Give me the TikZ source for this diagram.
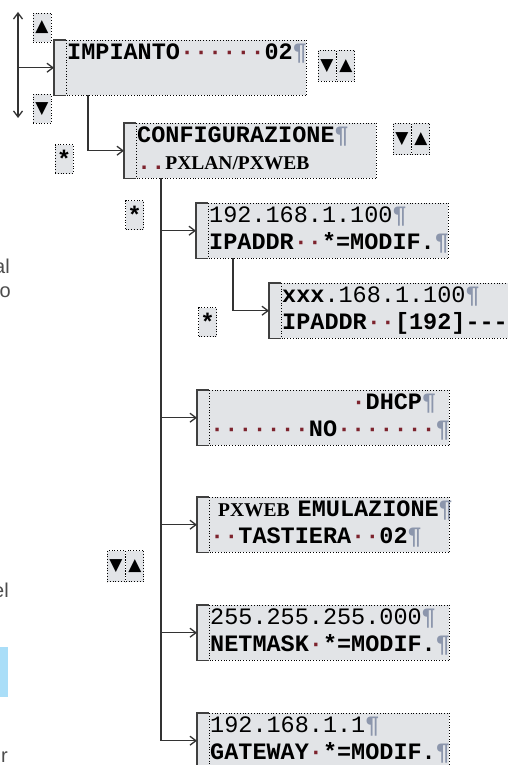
\documentclass[tikz,border=0pt]{standalone}
\usepackage{fontspec}
\usetikzlibrary{arrows.meta}
\newfontfamily\lcdmono{Liberation Mono}
\newfontfamily\lcdserif{Liberation Serif}
\newfontfamily\symfont{DejaVu Sans}
\newfontfamily\sidefont{Liberation Sans}
\definecolor{lcdfill}{RGB}{226,228,231}
\definecolor{lcdedge}{gray}{0.25}
\definecolor{lcddotcol}{RGB}{125,35,45}
\definecolor{lcdpilcol}{RGB}{140,150,172}
\definecolor{wirecol}{gray}{0.2}
\definecolor{sidetext}{gray}{0.3}
\definecolor{sidebar}{RGB}{170,222,248}
\newcommand{\lcddt}{\textcolor{lcddotcol}{·}}
\newcommand{\lcdpil}{\textcolor{lcdpilcol}{¶}}
\tikzset{
  lcd/.style={rectangle,fill=lcdfill,anchor=north west,minimum width=252pt,minimum height=55pt,
    inner xsep=13pt,inner ysep=0pt,text width=226pt,align=left,
    font=\lcdmono\bfseries\fontsize{23.5}{27.5}\selectfont,
    execute at begin node={\hyphenpenalty=10000 \exhyphenpenalty=10000 \strut},
    execute at end node={\strut}},
  lcddot/.style={draw=black,dotted,line width=0.8pt},
  lcdrim/.style={draw=lcdedge,line width=1.2pt},
  keyb/.style={rectangle,fill=lcdfill,draw=black,dotted,line width=0.8pt,inner sep=0pt,
    minimum width=18pt,minimum height=29pt,font=\symfont\fontsize{17}{17}\selectfont},
  keyw/.style={keyb,minimum width=18pt,minimum height=31pt},
  keystar/.style={keyb,font=\lcdmono\bfseries\fontsize{24}{24}\selectfont},
  wire/.style={draw=wirecol,line width=1.3pt},
  wirea/.style={wire,-{Straight Barb[length=6pt,width=9pt]}},
  wireb/.style={wire,{Straight Barb[length=6pt,width=9pt]}-{Straight Barb[length=6pt,width=9pt]}},
  side/.style={font=\sidefont\fontsize{20}{24}\selectfont,text=sidetext,anchor=base east,inner sep=0pt},
}

\begin{document}
\begin{tikzpicture}[x=1pt,y=-1pt]
  \useasboundingbox (0,0) rectangle (508,765);
  % display boxes
  \node[lcd] (imp) at (54,40) {IMPIANTO\lcddt\lcddt\lcddt\lcddt\lcddt\lcddt02\lcdpil\\};
  \node[lcd] (cfg) at (124,123) {CONFIGURAZIONE\lcdpil\\\textcolor{lcddotcol}{..}{\lcdserif\bfseries\fontsize{19.5}{27.5}\selectfont PXLAN/PXWEB}};
  \node[lcd] (ip) at (196,203) {{\mdseries 192.168.1.100}\lcdpil\\IPADDR\lcddt\lcddt*=MODIF.\lcdpil};
  \node[lcd] (ipedit) at (269,283) {xxx{\mdseries .168.1.100}\lcdpil\\\mbox{IPADDR\lcddt\lcddt[192]---}};
  \node[lcd] (dhcp) at (197,390) {\hfill\lcddt DHCP\lcdpil\hspace*{-14pt}\\\lcddt\lcddt\lcddt\lcddt\lcddt\lcddt\lcddt NO\lcddt\lcddt\lcddt\lcddt\lcddt\lcddt\lcddt\lcdpil};
  \node[lcd] (emul) at (197,497) {\mbox{\kern8pt{\lcdserif\bfseries\fontsize{19.5}{27.5}\selectfont PXWEB}\kern8pt EMULAZIONE\lcdpil}\\\lcddt\lcddt TASTIERA\lcddt\lcddt02\lcdpil};
  \node[lcd] (mask) at (197,605) {{\mdseries 255.255.255.000}\lcdpil\\NETMASK\lcddt*=MODIF.\lcdpil};
  \node[lcd] (gate) at (197,713) {{\mdseries 192.168.1.1}\lcdpil\\GATEWAY\lcddt*=MODIF.\lcdpil};
  % box rims
  \draw[lcddot] ([xshift=12pt]imp.north west) rectangle (imp.south east);
  \draw[lcdrim] ([xshift=12pt]imp.north west) -| (imp.south west) -- ([xshift=12pt]imp.south west);
  \draw[lcddot] ([xshift=12pt]cfg.north west) rectangle (cfg.south east);
  \draw[lcdrim] ([xshift=12pt]cfg.north west) -| (cfg.south west) -- ([xshift=12pt]cfg.south west);
  \draw[lcddot] ([xshift=12pt]ip.north west) rectangle (ip.south east);
  \draw[lcdrim] ([xshift=12pt]ip.north west) -| (ip.south west) -- ([xshift=12pt]ip.south west);
  \draw[lcddot] ([xshift=12pt]ipedit.north west) rectangle (ipedit.south east);
  \draw[lcdrim] ([xshift=12pt]ipedit.north west) -| (ipedit.south west) -- ([xshift=12pt]ipedit.south west);
  \draw[lcddot] ([xshift=12pt]dhcp.north west) rectangle (dhcp.south east);
  \draw[lcdrim] ([xshift=12pt]dhcp.north west) -| (dhcp.south west) -- ([xshift=12pt]dhcp.south west);
  \draw[lcddot] ([xshift=12pt]emul.north west) rectangle (emul.south east);
  \draw[lcdrim] ([xshift=12pt]emul.north west) -| (emul.south west) -- ([xshift=12pt]emul.south west);
  \draw[lcddot] ([xshift=12pt]mask.north west) rectangle (mask.south east);
  \draw[lcdrim] ([xshift=12pt]mask.north west) -| (mask.south west) -- ([xshift=12pt]mask.south west);
  \draw[lcddot] ([xshift=12pt]gate.north west) rectangle (gate.south east);
  \draw[lcdrim] ([xshift=12pt]gate.north west) -| (gate.south west) -- ([xshift=12pt]gate.south west);
  % keys
  \node[keyb] (kup) at (42,27.5) {▲};
  \node[keyb] (kdown) at (42,109) {▼};
  \node[keyw] (kimpdn) at (327,66) {▼};
  \node[keyw,anchor=west] (kimpup) at (kimpdn.east) {▲};
  \node[keyw] (kcfgdn) at (402,139) {▼};
  \node[keyw,anchor=west] (kcfgup) at (kcfgdn.east) {▲};
  \node[keyw] (kleftdn) at (116,566) {▼};
  \node[keyw,anchor=west] (kleftup) at (kleftdn.east) {▲};
  \node[keystar] (kstara) at (64,159) {*};
  \node[keystar] (kstarb) at (134.5,215) {*};
  \node[keystar] (kstarc) at (207.5,322) {*};
  % connectors
  \coordinate (navtop) at (18,12);
  \coordinate (navbot) at (18,118);
  \draw[wireb] (navbot) -- (navtop);
  \draw[wirea] (navtop |- imp.west) -- (imp.west);
  \draw[wirea] ([xshift=34pt]imp.south west) |- (cfg.west);
  \coordinate (trunk) at ([xshift=37pt]cfg.south west);
  \draw[wire] (trunk) -- (trunk |- gate.west);
  \draw[wirea] (trunk |- ip.west) -- (ip.west);
  \draw[wirea] (trunk |- dhcp.west) -- (dhcp.west);
  \draw[wirea] (trunk |- emul.west) -- (emul.west);
  \draw[wirea] (trunk |- mask.west) -- (mask.west);
  \draw[wirea] (trunk |- gate.west) -- (gate.west);
  \draw[wirea] ([xshift=37pt]ip.south west) |- (ipedit.west);
  % cut page text at the left edge
  \node[side] (fragal) at (10,273) {al};
  \node[side] (frago) at (11,297) {o};
  \node[side] (fragel) at (9,597) {el};
  \fill[sidebar] (0,647) rectangle (8,697);
  \node[side] (fragr) at (8,762) {r};
\end{tikzpicture}
\end{document}
